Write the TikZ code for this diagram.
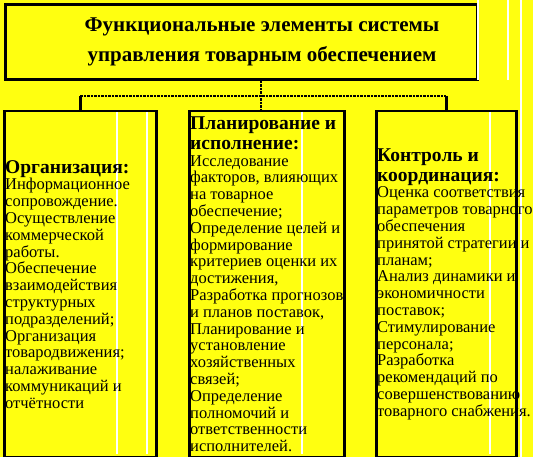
\documentclass[tikz,border=0pt]{standalone}
\usepackage{fontspec}
\setmainfont{Liberation Serif}
\usetikzlibrary{positioning}
\definecolor{yellowbg}{RGB}{255,255,16}
\newcommand{\colhead}[1]{\textbf{\fontsize{19.5}{20}\selectfont #1}}

\begin{document}
\begin{tikzpicture}[x=1pt, y=-1pt,
                      titlebox/.style={rectangle, draw, line width=3pt, fill=yellowbg, anchor=north west, minimum width=472pt, minimum height=75pt},
                      titletext/.style={align=center, font=\bfseries\fontsize{21}{30}\selectfont},
                      colbox/.style={rectangle, draw, line width=2.5pt, fill=yellowbg, anchor=north west, minimum height=346pt},
                      coltext/.style={inner sep=0pt, align=left, font=\fontsize{16.5}{16.8}\selectfont},
                      link/.style={line width=2.5pt},
                      dotlink/.style={line width=2.5pt, densely dotted},
                      ghostline/.style={draw=white, line width=1.5pt},
                  ]
                  \useasboundingbox[fill=yellowbg] (0,0) rectangle (533,457);
                  %Nodes
                  \node[titlebox]  (title)  at (4,3)   {};
                  \node[titletext] (head)   at (262,42) {Функциональные элементы системы\\управления товарным обеспечением};
                  \node[colbox, minimum width=152pt] (org)  at (3,110)   {};
                  \node[colbox, minimum width=155pt] (plan) at (188,110) {};
                  \node[colbox, minimum width=140pt] (ctrl) at (375,110) {};
                  \coordinate (fork) at (261,96);

                  %Ghost lines
                  \draw[ghostline] (117,112) -- (117,454);
                  \draw[ghostline] (147,112) -- (147,454);
                  \draw[ghostline] (302,112) -- (302,454);
                  \draw[ghostline] (490,112) -- (490,454);
                  \draw[ghostline] (478,0) -- (478,80);
                  \draw[ghostline] (508,0) -- (508,80);
                  \draw[ghostline] (521,0) -- (521,457);

                  %Texts
                  \node[coltext] (orgtext)  [right=2pt of org.west]  {\colhead{Организация:}\\Информационное\\сопровождение.\\Осуществление\\коммерческой\\работы.\\Обеспечение\\взаимодействия\\структурных\\подразделений;\\Организация\\товародвижения;\\налаживание\\коммуникаций и\\отчётности};
                  \node[coltext] (plantext) [right=2pt of plan.west] {\colhead{Планирование и}\\[3pt]\colhead{исполнение:}\\Исследование\\факторов, влияющих\\на товарное\\обеспечение;\\Определение целей и\\формирование\\критериев оценки их\\достижения,\\Разработка прогнозов\\и планов поставок,\\Планирование и\\установление\\хозяйственных\\связей;\\Определение\\полномочий и\\ответственности\\исполнителей.};
                  \node[coltext] (ctrltext) [right=2pt of ctrl.west] {\colhead{Контроль и}\\[3pt]\colhead{координация:}\\Оценка соответствия\\параметров товарного\\обеспечения\\принятой стратегии и\\планам;\\Анализ динамики и\\экономичности\\поставок;\\Стимулирование\\персонала;\\Разработка\\рекомендаций по\\совершенствованию\\товарного снабжения.};

                  %Lines
                  \draw[dotlink] (title.south -| fork) -- (plan.north -| fork);
                  \draw[dotlink] (org.north |- fork) -- (ctrl.north |- fork);
                  \draw[link] (org.north |- fork) -- (org.north);
                  \draw[link] (ctrl.north |- fork) -- (ctrl.north);
\end{tikzpicture}
\end{document}
